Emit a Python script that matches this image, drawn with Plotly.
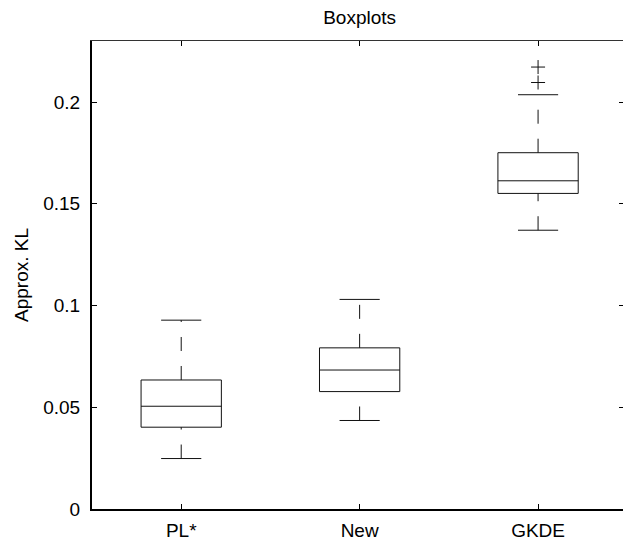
import plotly.graph_objects as go

# ---- data ----
categories = ["PL*", "New", "GKDE"]
lower_adjacent = [0.0248, 0.0435, 0.1370]
q1_values = [0.0402, 0.0577, 0.1551]
median_values = [0.0505, 0.0683, 0.1613]
q3_values = [0.0634, 0.0792, 0.1751]
upper_adjacent = [0.0928, 0.1030, 0.2036]
outlier_group = ["GKDE", "GKDE"]
outlier_values = [0.2096, 0.2172]

y_tick_values = [0, 0.05, 0.1, 0.15, 0.2]
y_tick_labels = ["0", "0.05", "0.1", "0.15", "0.2"]

# ---- style ----
BOX_HALF = 0.225
CAP_HALF = 0.1125
LINE_COLOR = "#111111"
FONT = "Liberation Sans, Arial, Helvetica, sans-serif"
FS = 19

positions = list(range(1, len(categories) + 1))

box_x, box_y, med_x, med_y, cap_x, cap_y = [], [], [], [], [], []
wh_x, wh_y = [], []
for p, lo, a, m, b, hi in zip(positions, lower_adjacent, q1_values, median_values, q3_values, upper_adjacent):
    box_x += [p - BOX_HALF, p + BOX_HALF, p + BOX_HALF, p - BOX_HALF, p - BOX_HALF, None]
    box_y += [a, a, b, b, a, None]
    med_x += [p - BOX_HALF, p + BOX_HALF, None]
    med_y += [m, m, None]
    cap_x += [p - CAP_HALF, p + CAP_HALF, None, p - CAP_HALF, p + CAP_HALF, None]
    cap_y += [lo, lo, None, hi, hi, None]
    # whiskers drawn bottom-to-top (dash pattern starts at lower end)
    wh_x += [p, p, None, p, p, None]
    wh_y += [lo, a, None, b, hi, None]

fig = go.Figure()
line = dict(color=LINE_COLOR, width=1)
fig.add_trace(go.Scatter(x=wh_x, y=wh_y, mode="lines",
                         line=dict(color=LINE_COLOR, width=1, dash="14px,15px"),
                         hoverinfo="skip", showlegend=False))
fig.add_trace(go.Scatter(x=box_x, y=box_y, mode="lines", line=line, hoverinfo="skip", showlegend=False))
fig.add_trace(go.Scatter(x=med_x, y=med_y, mode="lines", line=line, hoverinfo="skip", showlegend=False))
fig.add_trace(go.Scatter(x=cap_x, y=cap_y, mode="lines", line=line, hoverinfo="skip", showlegend=False))
fig.add_trace(go.Scatter(
    x=[positions[categories.index(g)] for g in outlier_group], y=outlier_values,
    mode="markers",
    marker=dict(symbol="cross-thin", size=10, line=dict(color=LINE_COLOR, width=1)),
    hoverinfo="skip", showlegend=False))
# invisible trace so that the mirror axes are drawn
fig.add_trace(go.Scatter(x=[None], y=[None], xaxis="x2", yaxis="y2", showlegend=False))

x_range = [0.5, 3.476]
y_range = [0, 0.23]

fig.update_layout(
    width=623, height=541,
    margin=dict(l=92, r=0, t=41, b=30),
    paper_bgcolor="white", plot_bgcolor="white",
    font=dict(family=FONT, size=FS, color="black"),
    title=dict(text="Boxplots", x=0.504, xref="paper", xanchor="center",
               y=1 - 17 / 541, yref="container", yanchor="middle",
               font=dict(family=FONT, size=FS, color="black")),
    xaxis=dict(range=x_range, tickvals=positions, ticktext=categories,
               showgrid=False, zeroline=False, showline=True, linecolor="black", linewidth=2,
               ticks="inside", ticklen=5, tickcolor="black", tickwidth=1,
               ticklabelstandoff=3, tickfont=dict(size=FS)),
    yaxis=dict(range=y_range, tickvals=y_tick_values, ticktext=y_tick_labels,
               showgrid=False, zeroline=False, showline=True, linecolor="black", linewidth=2,
               ticks="inside", ticklen=5, tickcolor="black", tickwidth=1,
               ticklabelstandoff=6, tickfont=dict(size=FS),
               title=dict(text="Approx. KL", standoff=10, font=dict(size=FS))),
    xaxis2=dict(range=x_range, overlaying="x", side="top", anchor="y",
                tickvals=positions, showticklabels=False,
                showgrid=False, zeroline=False, showline=True, linecolor="#333333", linewidth=1,
                ticks="inside", ticklen=5, tickcolor="black", tickwidth=1),
    yaxis2=dict(range=y_range, overlaying="y", side="right", anchor="x",
                tickvals=y_tick_values, showticklabels=False,
                showgrid=False, zeroline=False, showline=False,
                ticks="inside", ticklen=4, tickcolor="black", tickwidth=1),
)

fig.write_html("out.html")
